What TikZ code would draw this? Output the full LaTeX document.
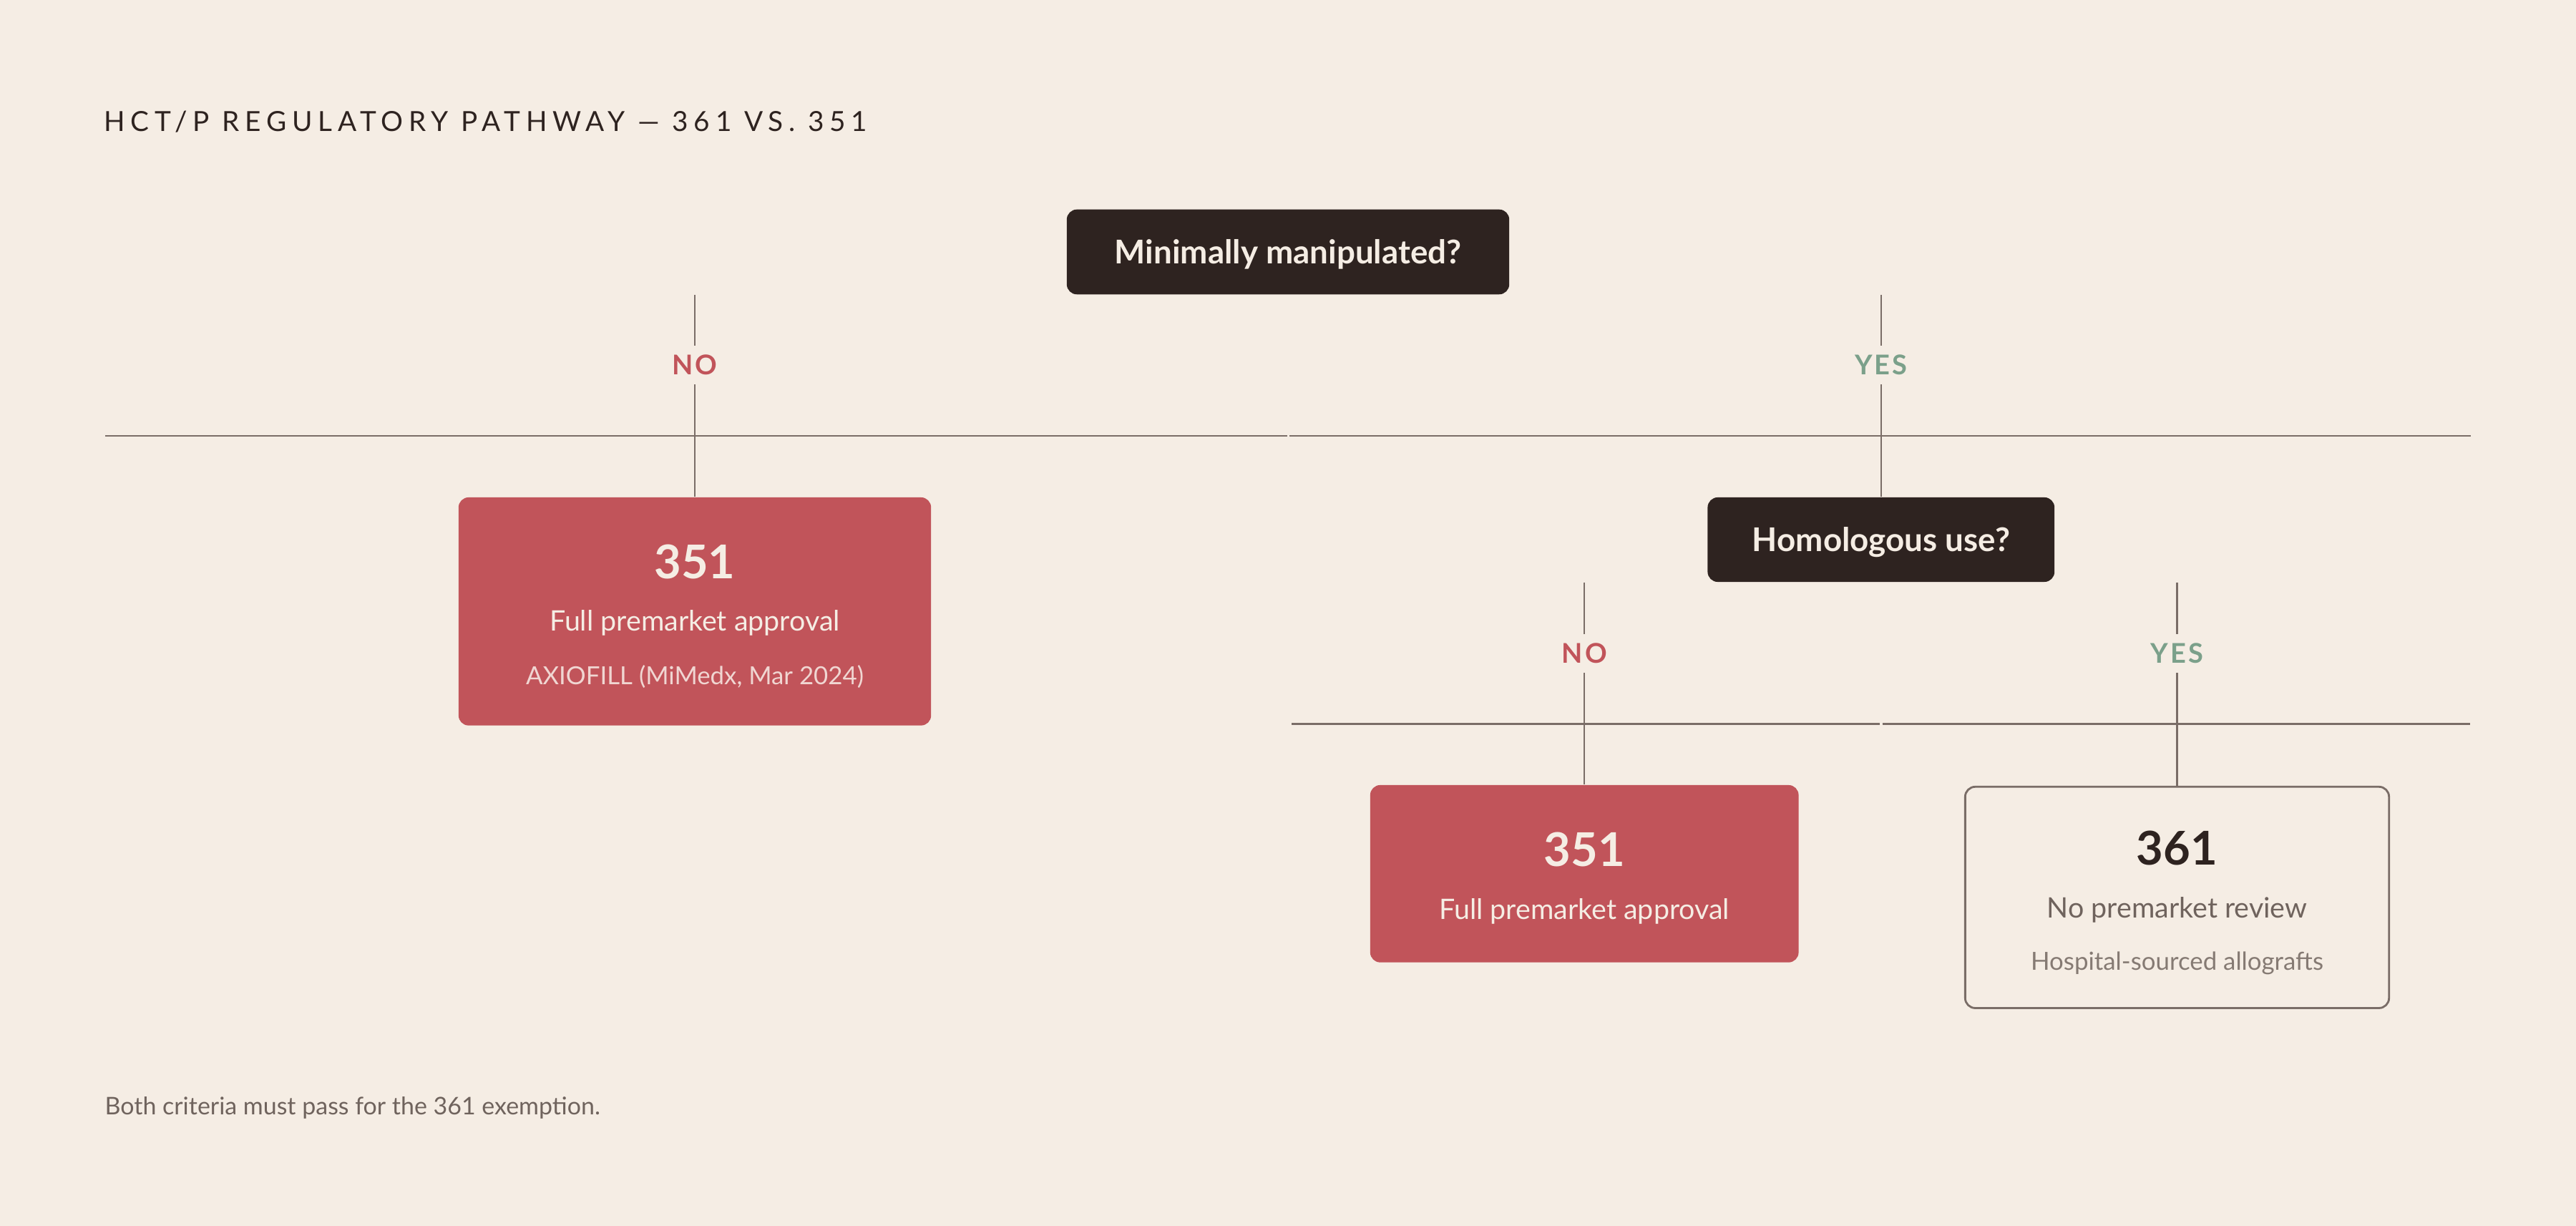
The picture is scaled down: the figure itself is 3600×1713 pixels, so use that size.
\documentclass[tikz,border=0pt]{standalone}
\usepackage{fontspec}
\setmainfont{Lato}
\newfontfamily\titlefont[LetterSpace=20]{Lato}
\newfontfamily\labfont[LetterSpace=8]{Lato}
\definecolor{bg}{HTML}{F5EDE4}
\definecolor{dark}{HTML}{2E2320}
\definecolor{redbx}{HTML}{C1545A}
\definecolor{greenlab}{HTML}{7BA08A}
\definecolor{linec}{HTML}{7A6D67}
\definecolor{greytxt}{HTML}{6F635D}
\definecolor{greytxtb}{HTML}{857A73}
\definecolor{axio}{HTML}{F0D6D2}
\begin{document}
\begin{tikzpicture}[x=0.01cm,y=-0.01cm,
  qbox/.style={fill=dark, rounded corners=4pt, inner sep=0pt, text=bg,
    font=\bfseries\fontsize{13}{15}\selectfont, text height=0.32cm, text depth=0pt},
  redbox/.style={fill=redbx, rounded corners=4pt, inner sep=0pt},
  outbox/.style={draw=linec, line width=0.8pt, fill=bg, rounded corners=4pt, inner sep=0pt},
  conn/.style={draw=linec, line width=0.65pt},
  branchlab/.style={font=\labfont\bfseries\fontsize{10.8}{12}\selectfont, text height=0.27cm,
    text depth=0pt, inner xsep=0pt, inner ysep=0.13cm, anchor=base},
  nolab/.style={branchlab, text=redbx},
  yeslab/.style={branchlab, text=greenlab},
  bignum/.style={anchor=base, inner sep=0pt, font=\bfseries\fontsize{18.5}{21}\selectfont},
  maintxt/.style={anchor=base, inner sep=0pt, font=\fontsize{11.2}{13}\selectfont},
  subtxt/.style={anchor=base, inner sep=0pt, font=\fontsize{9.9}{12}\selectfont}
]
\fill[bg] (0,0) rectangle (3600,1713);
\useasboundingbox (0,0) rectangle (3600,1713);

% title
\node[anchor=base west, inner sep=0pt, text=dark, font=\titlefont\fontsize{11}{13}\selectfont]
  (title) at (145,184) {HCT/P REGULATORY PATHWAY — 361 VS. 351};

% question boxes
\node[qbox, minimum width=6.18cm, minimum height=1.185cm] (root) at (1800,352) {Minimally manipulated?};
\node[qbox, minimum width=4.845cm, minimum height=1.18cm] (homol) at (2628.8,754) {Homologous use?};

% result boxes
\node[redbox, minimum width=6.60cm, minimum height=3.185cm] (b1) at (971,854.3) {};
\node[redbox, minimum width=5.984cm, minimum height=2.476cm] (b2) at (2214.2,1220.8) {};
\node[outbox, minimum width=5.92cm, minimum height=3.09cm] (b3) at (3042.5,1253.9) {};

% branch labels
\node[nolab] (no1) at (971,523.6) {NO};
\node[yeslab] (yes1) at (2628.8,523.6) {YES};
\node[nolab] (no2) at (2214.2,926.3) {NO};
\node[yeslab] (yes2) at (3042.5,926.3) {YES};

% horizontal rule coordinates
\coordinate (h1a) at (147,609);
\coordinate (h1b) at (1798.5,609);
\coordinate (h1c) at (1801.5,609);
\coordinate (h1d) at (3453,609);
\coordinate (h2a) at (1805,1011.6);
\coordinate (h2b) at (2627,1011.6);
\coordinate (h2c) at (2630.5,1011.6);
\coordinate (h2d) at (3452,1011.6);

\draw[conn] (h1a) -- (h1b);
\draw[conn] (h1c) -- (h1d);
\draw[conn] (h2a) -- (h2b);
\draw[conn] (h2c) -- (h2d);

% connectors
\draw[conn] (no1.north |- root.south) -- (no1.north);
\draw[conn] (no1.south) -- (b1.north);
\draw[conn] (yes1.north |- root.south) -- (yes1.north);
\draw[conn] (yes1.south) -- (homol.north);
\draw[conn] (no2.north |- homol.south) -- (no2.north);
\draw[conn] (no2.south) -- (b2.north);
\draw[conn] (yes2.north |- homol.south) -- (yes2.north);
\draw[conn] (yes2.south) -- (b3.north);

% texts in result boxes
\node[bignum, text=bg] (b1num) at (971,809) {351};
\node[maintxt, text=bg] (b1main) at (971,882) {Full premarket approval};
\node[subtxt, text=axio] (b1sub) at (971,956) {AXIOFILL (MiMedx, Mar 2024)};

\node[bignum, text=bg] (b2num) at (2214.2,1210) {351};
\node[maintxt, text=bg] (b2main) at (2214.2,1284) {Full premarket approval};

\node[bignum, text=dark] (b3num) at (3042.5,1208) {361};
\node[maintxt, text=greytxt] (b3main) at (3042.5,1282) {No premarket review};
\node[subtxt, text=greytxtb] (b3sub) at (3042.5,1355) {Hospital-sourced allografts};

% footer
\node[anchor=base west, inner sep=0pt, text=greytxt, font=\fontsize{9.65}{11}\selectfont]
  (foot) at (146,1557) {Both criteria must pass for the 361 exemption.};
\end{tikzpicture}
\end{document}
